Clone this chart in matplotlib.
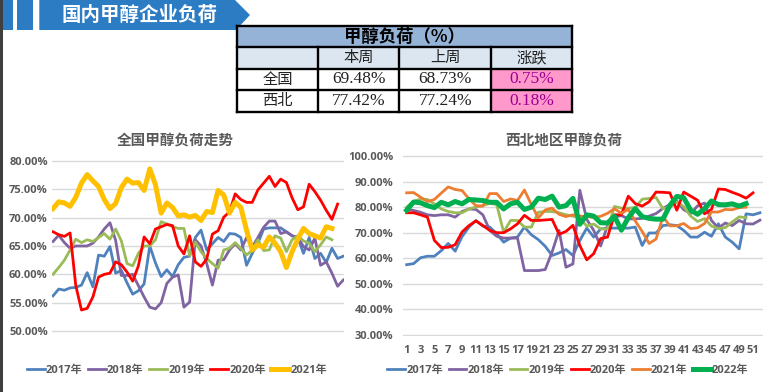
import matplotlib
matplotlib.use('Agg')
import matplotlib.pyplot as plt
from matplotlib.patches import Rectangle, Polygon
from matplotlib.ticker import FuncFormatter

plt.rcParams['font.family'] = ['Open Sans', 'Noto Sans CJK SC', 'DejaVu Sans']

# ---------------- data ----------------
banner_title = '国内甲醇企业负荷'
table_title = '甲醇负荷（%）'
table_cols = ['', '本周', '上周', '涨跌']
table_rows = ['全国', '西北']
this_week = [69.48, 77.42]
last_week = [68.73, 77.24]
change = [0.75, 0.18]

left_title = '全国甲醇负荷走势'
right_title = '西北地区甲醇负荷'

nat_labels = ['2017年', '2018年', '2019年', '2020年', '2021年']
nat_2017 = [56.2, 57.4, 57.2, 57.6, 57.7, 58.1, 60.3, 57.8, 63.4, 63.2, 64.9, 60.2, 60.7, 58.5,
            56.5, 57.1, 58.3, 65.0, 62.0, 59.6, 60.8, 59.6, 61.7, 63.0, 63.2, 66.5, 67.8, 64.3,
            65.4, 66.5, 65.8, 67.2, 67.1, 66.5, 61.6, 63.7, 65.5, 68.0, 68.2, 68.2, 68.2, 67.5,
            66.8, 66.5, 63.7, 66.5, 62.8, 63.7, 62.1, 64.6, 62.8, 63.2]
nat_2018 = [65.8, 66.9, 65.6, 64.6, 65.0, 65.0, 65.0, 65.5, 66.6, 68.0, 69.1, 66.0, 59.8, 59.8,
            60.0, 58.0, 56.0, 54.2, 53.9, 55.0, 58.4, 59.5, 59.9, 54.2, 55.1, 66.1, 65.0, 61.9,
            58.1, 62.5, 62.6, 64.3, 65.4, 64.3, 66.5, 64.8, 66.5, 68.3, 69.4, 69.4, 67.2, 67.5,
            66.8, 66.5, 64.9, 64.3, 66.4, 61.6, 62.2, 60.2, 57.9, 59.0]
nat_2019 = [60.0, 61.2, 62.5, 64.3, 66.2, 65.6, 66.1, 65.8, 66.5, 67.2, 66.2, 68.0, 65.9, 61.9,
            61.5, 63.7, 65.0, 65.0, 66.1, 69.3, 68.9, 68.4, 68.1, 68.1, 63.3, 65.7, 64.0, 62.8,
            61.9, 61.1, 64.3, 64.6, 65.6, 64.6, 63.4, 64.3, 66.1, 64.2, 64.3, 66.8, 66.4, 64.0,
            66.1, 66.8, 65.9, 65.5, 64.0, 65.2, 66.6, 66.1]
nat_2020 = [67.5, 67.0, 66.7, 67.3, 58.0, 53.7, 54.0, 56.0, 59.5, 60.0, 60.2, 62.2, 61.7, 60.4,
            58.8, 61.5, 66.6, 65.4, 68.0, 68.4, 68.8, 68.6, 65.0, 63.6, 66.8, 62.2, 61.4, 62.7,
            67.1, 67.7, 70.1, 71.0, 74.2, 73.2, 72.7, 72.7, 74.9, 76.1, 77.3, 75.5, 76.8, 76.2,
            73.5, 71.4, 71.9, 75.9, 74.6, 73.1, 71.3, 69.7, 72.4]
nat_2021 = [71.6, 72.8, 72.6, 72.0, 73.6, 76.1, 77.6, 76.5, 75.5, 73.2, 71.6, 72.5, 75.3, 76.8,
            76.1, 76.2, 74.8, 78.6, 75.8, 70.8, 72.6, 71.8, 70.3, 70.5, 70.1, 70.4, 69.5, 71.1,
            70.9, 74.8, 74.0, 70.8, 72.7, 71.8, 67.8, 64.3, 65.2, 64.8, 66.6, 65.5, 64.0, 61.2,
            64.0, 66.2, 68.1, 67.2, 66.8, 66.4, 68.4, 68.1]

nw_labels = ['2017年', '2018年', '2019年', '2020年', '2021年', '2022年']
nw_2017 = [57.5, 57.9, 60.2, 60.8, 60.8, 63.0, 65.8, 62.8, 68.5, 72.2, 74.8, 72.6, 72.2, 69.6,
           66.3, 67.9, 68.3, 72.2, 69.2, 67.3, 64.7, 61.1, 62.1, 63.4, 61.1, 67.0, 71.8, 68.3,
           71.5, 71.8, 71.8, 71.8, 71.8, 72.2, 65.0, 69.9, 69.9, 72.8, 73.1, 72.8, 70.9, 68.3,
           68.3, 70.2, 68.6, 73.5, 68.3, 66.3, 63.7, 77.4, 77.0, 77.8]
nw_2018 = [79.3, 78.7, 78.0, 77.0, 76.7, 77.0, 77.0, 76.1, 78.3, 79.3, 79.1, 77.0, 70.9, 68.6,
           67.9, 67.9, 67.9, 55.2, 55.2, 55.2, 55.6, 62.5, 70.9, 56.5, 57.8, 86.6, 75.2, 70.9,
           64.8, 72.8, 76.1, 76.7, 75.4, 75.4, 75.6, 76.5, 77.5, 79.5, 81.0, 82.4, 79.0, 77.5,
           80.5, 81.6, 74.8, 71.8, 73.8, 72.8, 74.8, 73.5, 73.4, 74.9]
nw_2019 = [80.0, 82.2, 83.2, 83.0, 81.3, 79.3, 78.3, 77.8, 77.8, 79.3, 80.0, 80.6, 81.5, 81.0,
           70.2, 74.8, 74.8, 72.2, 72.2, 78.0, 78.3, 78.3, 77.8, 77.0, 76.5, 75.7, 72.6, 73.4,
           71.5, 71.5, 80.3, 79.6, 79.6, 79.8, 83.1, 83.4, 83.8, 79.4, 79.9, 82.1, 80.2, 76.5,
           74.4, 75.5, 72.6, 71.6, 72.0, 74.2, 76.2, 75.9]
nw_2020 = [77.8, 77.8, 77.0, 76.1, 67.0, 64.2, 64.3, 65.3, 70.3, 72.8, 74.6, 72.8, 70.9, 70.0,
           70.0, 71.5, 73.5, 76.8, 74.8, 74.8, 75.0, 75.2, 69.4, 70.5, 72.9, 65.0, 59.4, 61.8,
           67.7, 68.3, 77.0, 77.0, 84.3, 81.4, 80.4, 82.1, 85.9, 85.8, 85.6, 78.8, 85.9, 84.3,
           82.7, 77.4, 79.1, 87.1, 86.9, 85.8, 84.8, 83.5, 85.6]
nw_2021 = [85.6, 85.7, 83.9, 82.2, 83.0, 85.5, 87.9, 86.9, 86.5, 83.2, 80.6, 80.4, 85.3, 85.3,
           82.2, 83.2, 82.6, 86.7, 81.0, 75.8, 78.9, 79.6, 77.2, 76.3, 77.0, 76.5, 76.3, 76.0,
           76.4, 77.6, 79.4, 77.6, 79.1, 74.6, 70.5, 65.8, 67.5, 76.3, 72.7, 72.7, 73.6, 71.6,
           71.9, 73.6, 78.1, 78.1, 79.1, 79.0, 79.8, 80.0]
nw_2022 = [78.8, 82.0, 81.7, 80.6, 79.8, 81.9, 80.9, 82.2, 81.3, 83.0, 82.8, 82.6, 81.9, 81.9,
           79.3, 81.3, 81.9, 79.1, 80.0, 83.5, 83.0, 84.3, 80.0, 80.6, 83.4, 73.3, 77.0, 76.5,
           73.9, 73.8, 76.4, 71.0, 75.9, 79.4, 76.3, 75.6, 75.3, 75.3, 80.7, 84.2, 83.7, 78.8,
           77.2, 79.4, 82.4, 81.0, 80.9, 81.3, 80.4, 81.4]

left_yticks = [50, 55, 60, 65, 70, 75, 80]
right_yticks = [30, 40, 50, 60, 70, 80, 90, 100]
right_xticks = list(range(1, 52, 2))

# ---------------- styling ----------------
W, H = 779, 392
BLUE = '#4F81BD'; PURPLE = '#8064A2'; LGREEN = '#9BBB59'; RED = '#FF0000'
YELLOW = '#FFC000'; ORANGE = '#ED7D31'; DGREEN = '#00B050'
GRID = '#D9D9D9'; TXT = '#595959'

fig = plt.figure(figsize=(W / 100, H / 100), dpi=100)
fig.patch.set_facecolor('white')

def fx(x):
    return x / W

def fy(y):
    return 1 - y / H

bg = fig.add_axes([0, 0, 1, 1])
bg.set_xlim(0, W); bg.set_ylim(H, 0); bg.axis('off')

# banner
BANNER = '#2C7CC4'
bg.add_patch(Rectangle((0, 0), 2.7, H, color='#3F3F3F', lw=0))
bg.add_patch(Rectangle((3.3, 0), 9.4, 30, color=BANNER, lw=0))
bg.add_patch(Rectangle((17.3, 0), 15.4, 30, color=BANNER, lw=0))
bg.add_patch(Polygon([(39.3, 0), (235, 0), (250, 15), (236, 30), (39.3, 30)], closed=True,
                     color=BANNER, lw=0))
bg.text(140, 15.5, banner_title, color='white', fontsize=14, fontweight='bold',
        family=['Noto Sans CJK SC'], ha='center', va='center')

# table
xs = [237, 318, 399.5, 491, 572]
ys = [26, 47, 68.5, 90, 111.5]
bg.add_patch(Rectangle((xs[0], ys[0]), xs[4] - xs[0], ys[1] - ys[0], color='#95B3D7', lw=0))
bg.add_patch(Rectangle((xs[0], ys[1]), xs[4] - xs[0], ys[2] - ys[1], color='#DCE6F1', lw=0))
bg.add_patch(Rectangle((xs[3], ys[2]), xs[4] - xs[3], ys[4] - ys[2], color='#FF99CC', lw=0))
lwb = 1.7
for y in ys:
    bg.plot([xs[0], xs[4]], [y, y], color='black', lw=lwb, solid_capstyle='projecting')
for i, x in enumerate(xs):
    y0 = ys[0] if i in (0, 4) else ys[1]
    bg.plot([x, x], [y0, ys[4]], color='black', lw=lwb, solid_capstyle='projecting')

tfam = ['Liberation Serif', 'Noto Sans CJK SC']
cx = [(xs[i] + xs[i + 1]) / 2 for i in range(4)]
cy = [(ys[i] + ys[i + 1]) / 2 for i in range(4)]
bg.text((xs[0] + xs[4]) / 2, cy[0], table_title, fontsize=12.5, fontweight='bold',
        family=['Noto Sans CJK SC'], ha='center', va='center', color='black')
for j, c in enumerate(table_cols):
    if c:
        bg.text(cx[j], cy[1], c, fontsize=11, family=['Noto Sans CJK SC'], ha='center',
                va='center', color='#222222')
for r in range(2):
    bg.text(cx[0], cy[2 + r], table_rows[r], fontsize=11, family=['Noto Sans CJK SC'],
            ha='center', va='center', color='#222222')
    bg.text(cx[1], cy[2 + r], f'{this_week[r]:.2f}%', fontsize=12.5, family=tfam,
            ha='center', va='center', color='#222222')
    bg.text(cx[2], cy[2 + r], f'{last_week[r]:.2f}%', fontsize=12.5, family=tfam,
            ha='center', va='center', color='#222222')
    bg.text(cx[3], cy[2 + r], f'{change[r]:.2f}%', fontsize=12.5, family=tfam,
            ha='center', va='center', color='#9C0090')

pct = FuncFormatter(lambda v, p: f'{v:.2f}%')

def style_axis(ax):
    for s in ax.spines.values():
        s.set_visible(False)
    ax.grid(axis='y', color=GRID, lw=1)
    ax.set_axisbelow(True)
    ax.yaxis.set_major_formatter(pct)
    ax.tick_params(length=0, labelsize=8, labelcolor=TXT)
    for lbl in ax.get_yticklabels() + ax.get_xticklabels():
        lbl.set_fontweight('bold')

# left chart: y 80 -> 161px, 50 -> 331px
ppu = (331 - 161) / 30.0
yl0, yl1 = 49.5, 80.5
top = 161 - (yl1 - 80) * ppu
bot = 331 + (50 - yl0) * ppu
axL = fig.add_axes([fx(52), fy(bot), (344 - 52) / W, (bot - top) / H])
series_L = [(nat_2017, BLUE, 2.0), (nat_2018, PURPLE, 2.0), (nat_2019, LGREEN, 2.0),
            (nat_2020, RED, 2.0), (nat_2021, YELLOW, 3.6)]
for (vals, col, lw), lab in zip(series_L, nat_labels):
    axL.plot(range(1, len(vals) + 1), vals, color=col, lw=lw, label=lab,
             solid_joinstyle='round')
axL.set_ylim(yl0, yl1)
axL.set_xlim(0.82, 52.12)
axL.set_yticks(left_yticks)
axL.set_xticks([])
style_axis(axL)
axL.tick_params(axis='y', pad=3)
fig.text(fx(175), fy(140), left_title, fontsize=10.5, fontweight='bold', color=TXT,
         family=['Noto Sans CJK SC'], ha='center', va='center')
legL = axL.legend(loc='center', bbox_to_anchor=(fx(177), fy(370)), bbox_transform=fig.transFigure,
                  ncol=5, frameon=False, handlelength=1.6, handletextpad=0.1, columnspacing=0.5,
                  borderpad=0, borderaxespad=0, prop={'size': 8, 'weight': 'bold'},
                  labelcolor=TXT)

# right chart: y 100 -> 156px, 30 -> 335px
ppu2 = (335 - 156) / 70.0
yr0, yr1 = 29.5, 100.5
topR = 156 - (yr1 - 100) * ppu2
botR = 335 + (30 - yr0) * ppu2
axR = fig.add_axes([fx(403.2), fy(botR), (763.4 - 403.2) / W, (botR - topR) / H])
series_R = [(nw_2017, BLUE, 2.0), (nw_2018, PURPLE, 2.0), (nw_2019, LGREEN, 2.0),
            (nw_2020, RED, 2.0), (nw_2021, ORANGE, 2.0), (nw_2022, DGREEN, 3.6)]
for (vals, col, lw), lab in zip(series_R, nw_labels):
    axR.plot(range(1, len(vals) + 1), vals, color=col, lw=lw, label=lab,
             solid_joinstyle='round')
axR.set_ylim(yr0, yr1)
axR.set_xlim(0.5, 52.5)
axR.set_yticks(right_yticks)
axR.set_xticks(right_xticks)
axR.set_xticklabels([str(v) for v in right_xticks])
style_axis(axR)
axR.tick_params(axis='y', pad=7.3)
axR.tick_params(axis='x', pad=6)
fig.text(fx(564), fy(140), right_title, fontsize=10.5, fontweight='bold', color=TXT,
         family=['Noto Sans CJK SC'], ha='center', va='center')
legR = axR.legend(loc='center', bbox_to_anchor=(fx(568), fy(370)), bbox_transform=fig.transFigure,
                  ncol=6, frameon=False, handlelength=1.6, handletextpad=0.1, columnspacing=0.5,
                  borderpad=0, borderaxespad=0, prop={'size': 8, 'weight': 'bold'},
                  labelcolor=TXT)

fig.savefig('out.png', dpi=100, facecolor='white')
